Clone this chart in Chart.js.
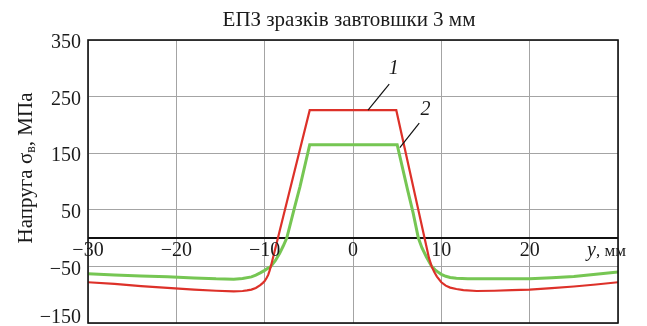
<!DOCTYPE html>
<html>
<head>
<meta charset="utf-8">
<script src="https://cdn.jsdelivr.net/npm/chart.js@4/dist/chart.umd.min.js"></script>
<style>
  html, body { margin: 0; padding: 0; background: #fff; }
  #wrap { width: 647px; height: 326px; }
</style>
</head>
<body>
<div id="wrap"><canvas id="c" width="647" height="326"></canvas></div>
<script>
// Chart title and axis labels
const chartTitle = 'ЕПЗ зразків завтовшки 3 мм';
const yTitleMain = 'Напруга σ';
const yTitleSub = 'в';
const yTitleTail = ', МПа';
const xAxisName = 'y';
const xAxisUnit = ', мм';

// Tick values
const xTicks = [-30, -20, -10, 0, 10, 20];
const yTicks = [350, 250, 150, 50, -50, -150];

// Curve 1 — residual stress, sample 1
const curve1X = [-30, -27, -24, -21, -18, -15.5, -13.5, -12.5, -12, -11.5, -11, -10.5, -10.2, -10, -9.8, -9.6, -9.45, -9.3, -8.5, -4.9,
                 4.9, 8.1, 8.6, 8.9, 9.2, 9.5, 10, 10.5, 11, 11.7, 12.5, 14, 16, 18, 20, 22.5, 25, 27.5, 30];
const curve1Y = [-78, -81, -85, -88, -91, -93, -94, -93.5, -92.5, -91, -88, -83, -79, -76, -71, -65, -58, -50, 0, 226,
                 226, 0, -35, -50, -60, -68, -78, -84, -87.5, -90, -92, -93.5, -93, -92, -91, -88.5, -85.5, -82, -78];

// Curve 2 — residual stress, sample 2
const curve2X = [-30, -27, -24, -21, -18, -15.5, -13.5, -12.5, -11.5, -11, -10.5, -10, -9.6, -9.3, -8.8, -8.3, -7.9, -7.5, -6.6, -6.0, -4.9,
                 5.0, 6.2, 6.8, 7.4, 7.8, 8.3, 8.9, 9.3, 9.7, 10, 10.5, 11, 11.7, 13, 15, 17.8, 20, 22.5, 25, 27.5, 30];
const curve2Y = [-63, -65, -67, -68.5, -70.5, -72, -72.5, -71.5, -68.5, -65.5, -61.5, -57, -53, -50, -40, -27, -14, 0, 55, 91, 165,
                 165, 84, 45, 0, -17, -33, -50, -56, -61, -64, -67.5, -69.5, -71, -72, -72, -72, -72, -70, -68, -64, -60];

// Curve number labels with leader lines (data coordinates)
const curveLabels = ['1', '2'];
const leaderFrom = [[1.7, 226], [5.3, 160]];
const leaderTo = [[4.1, 272], [7.5, 203]];
const labelAt = [[4.6, 299], [8.2, 226]];

const toPoints = (xs, ys) => xs.map((x, i) => ({ x, y: ys[i] }));
const minus = v => String(v).replace('-', '\u2212');
const SERIF = '"Liberation Serif", "DejaVu Serif", serif';

const decorations = {
  id: 'decorations',
  beforeDatasetsDraw(chart) {
    const { ctx, chartArea: a, scales: { y } } = chart;
    // zero line of the stress axis
    ctx.save();
    ctx.strokeStyle = '#111';
    ctx.lineWidth = 2;
    const y0 = Math.round(y.getPixelForValue(0));
    ctx.beginPath();
    ctx.moveTo(a.left, y0);
    ctx.lineTo(a.right, y0);
    ctx.stroke();
    ctx.restore();
  },
  afterDatasetsDraw(chart) {
    const { ctx, chartArea: a, scales: { x, y } } = chart;
    ctx.save();
    // frame
    ctx.strokeStyle = '#111';
    ctx.lineWidth = 1.6;
    ctx.strokeRect(a.left, a.top, a.right - a.left, a.bottom - a.top);

    // x tick labels along the zero line
    const y0 = y.getPixelForValue(0);
    ctx.fillStyle = '#1a1a1a';
    ctx.font = '20px ' + SERIF;
    ctx.textAlign = 'center';
    ctx.textBaseline = 'middle';
    xTicks.forEach(v => ctx.fillText(minus(v), x.getPixelForValue(v), y0 + 13));

    // x axis name at the right end
    ctx.textAlign = 'left';
    ctx.font = 'italic 20px ' + SERIF;
    const nx = x.getPixelForValue(30) - 31;
    ctx.fillText(xAxisName, nx, y0 + 13);
    const nw = ctx.measureText(xAxisName).width;
    ctx.font = '17px ' + SERIF;
    ctx.fillText(xAxisUnit, nx + nw, y0 + 13);

    // y tick labels
    ctx.font = '20px ' + SERIF;
    ctx.textAlign = 'right';
    yTicks.forEach(v => {
      let py = y.getPixelForValue(v) + 3;
      if (v === y.min) py = Math.min(py, chart.height - 8);
      ctx.fillText(minus(v), a.left - 7, py);
    });

    // curve number labels
    ctx.strokeStyle = '#111';
    ctx.lineWidth = 1.2;
    ctx.font = 'italic 20px ' + SERIF;
    ctx.textAlign = 'center';
    curveLabels.forEach((t, i) => {
      ctx.beginPath();
      ctx.moveTo(x.getPixelForValue(leaderFrom[i][0]), y.getPixelForValue(leaderFrom[i][1]));
      ctx.lineTo(x.getPixelForValue(leaderTo[i][0]), y.getPixelForValue(leaderTo[i][1]));
      ctx.stroke();
      ctx.fillText(t, x.getPixelForValue(labelAt[i][0]), y.getPixelForValue(labelAt[i][1]));
    });

    // title
    ctx.font = '21px ' + SERIF;
    ctx.textAlign = 'center';
    ctx.fillText(chartTitle, (a.left + a.right) / 2 - 4, 20);

    // rotated y axis title with subscript
    ctx.translate(26, 168);
    ctx.rotate(-Math.PI / 2);
    ctx.font = '21px ' + SERIF;
    const w1 = ctx.measureText(yTitleMain).width;
    const w3 = ctx.measureText(yTitleTail).width;
    ctx.font = '14px ' + SERIF;
    const w2 = ctx.measureText(yTitleSub).width;
    const sx = -(w1 + w2 + w3) / 2;
    ctx.textAlign = 'left';
    ctx.font = '21px ' + SERIF;
    ctx.fillText(yTitleMain, sx, 0);
    ctx.font = '14px ' + SERIF;
    ctx.fillText(yTitleSub, sx + w1, 5);
    ctx.font = '21px ' + SERIF;
    ctx.fillText(yTitleTail, sx + w1 + w2, 0);
    ctx.restore();
  }
};

new Chart(document.getElementById('c'), {
  type: 'scatter',
  data: {
    datasets: [
      {
        label: '1',
        data: toPoints(curve1X, curve1Y),
        showLine: true,
        borderColor: '#dd3129',
        borderWidth: 2.2,
        pointRadius: 0,
        tension: 0
      },
      {
        label: '2',
        data: toPoints(curve2X, curve2Y),
        showLine: true,
        borderColor: '#76c653',
        borderWidth: 3,
        pointRadius: 0,
        tension: 0
      }
    ]
  },
  options: {
    responsive: false,
    animation: false,
    devicePixelRatio: 1,
    layout: { padding: { left: 0, top: 40, right: 29, bottom: 3 } },
    plugins: { legend: { display: false }, tooltip: { enabled: false }, title: { display: false } },
    scales: {
      x: {
        type: 'linear',
        min: -30, max: 30,
        ticks: { display: false, stepSize: 10 },
        grid: { color: '#a4a4a4', lineWidth: 1, drawTicks: false },
        border: { display: false },
        afterFit(s) { s.height = 0; s.paddingLeft = 0; s.paddingRight = 0; }
      },
      y: {
        type: 'linear',
        min: -150, max: 350,
        ticks: { display: false, stepSize: 100 },
        grid: { color: '#a4a4a4', lineWidth: 1, drawTicks: false },
        border: { display: false },
        afterFit(s) { s.width = 88; s.paddingTop = 0; s.paddingBottom = 0; }
      }
    }
  },
  plugins: [decorations]
});
</script>
</body>
</html>
